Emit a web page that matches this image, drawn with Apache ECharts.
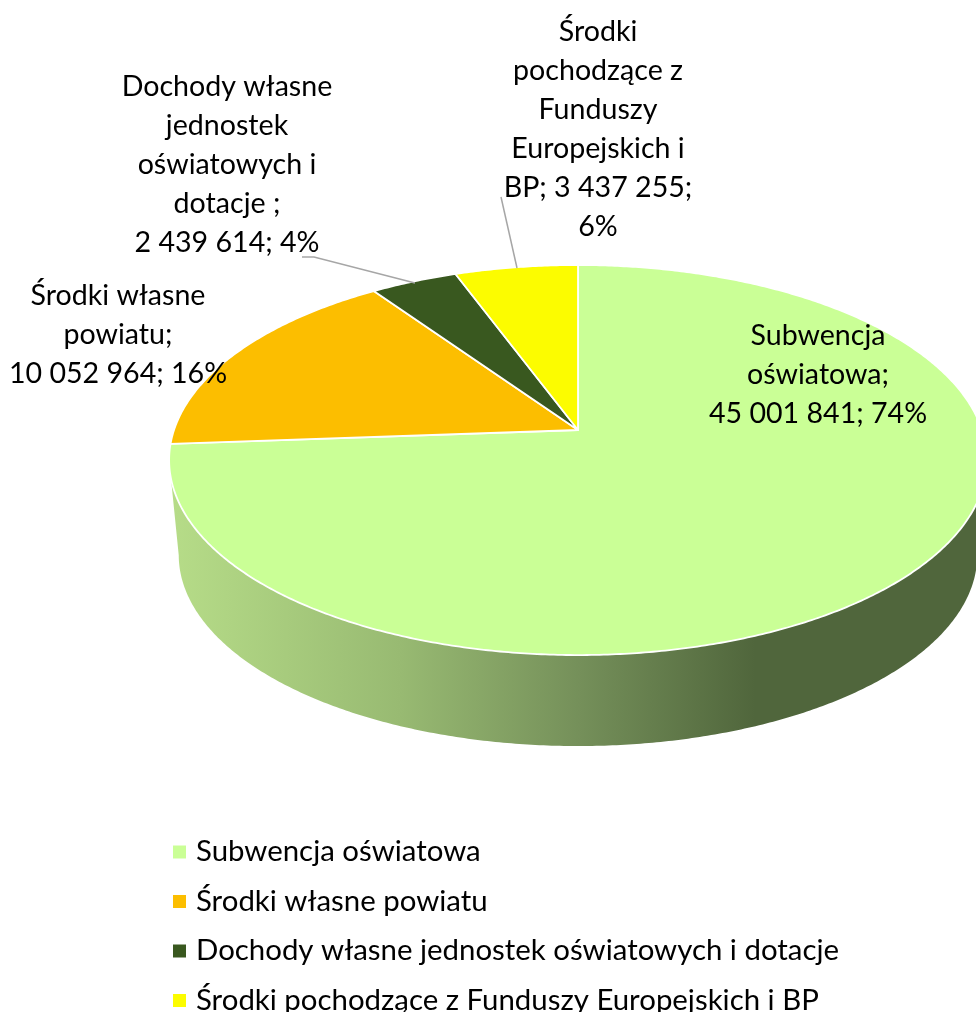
<!DOCTYPE html>
<html>
<head>
<meta charset="utf-8">
<style>html,body{margin:0;padding:0;background:#fff}#c{width:976px;height:1012px}</style>
<script src="https://cdn.jsdelivr.net/npm/echarts@6/dist/echarts.min.js"></script>
</head>
<body>
<div id="c"></div>
<script>
const categories = ['Subwencja oświatowa', 'Środki własne powiatu', 'Dochody własne jednostek oświatowych i dotacje', 'Środki pochodzące z Funduszy Europejskich i BP'];
const values = [45001841, 10052964, 2439614, 3437255];
const colors = ['#caff96', '#fcbe00', '#39581f', '#fcfc00'];
const labelTemplates = [
  'Subwencja\noświatowa;\n{v}; {p}',
  'Środki własne\npowiatu;\n{v}; {p}',
  'Dochody własne\njednostek\noświatowych i\ndotacje ;\n{v}; {p}',
  'Środki\npochodzące z\nFunduszy\nEuropejskich i\nBP; {v};\n{p}'
];
const labelAnchors = [[818, 316], [118, 276], [227, 67], [598, 12]];
const leaderLines = [null, null, [[302, 257], [314, 257], [415, 283]], [[501, 197], [517, 268]]];
const wallStops = [[172, '#b6dc88'], [400, '#98ba72'], [578, '#75905a'], [755, '#50663c'], [976, '#50663c']];

const FONT = 'Lato, "Open Sans", sans-serif';
const LABEL_FS = 28.6;
const LEGEND_FS = 29.4;
const total = values.reduce((a, b) => a + b, 0);
const persp = 0.154;
const topFace = { cx: 578, cy: 430, a: 404, b: 190.4 };
const baseFace = { cx: 578, cy: 525.6, a: 394.5, b: 186.5 };
const DEG = Math.PI / 180;
const wallFrom = 98.9, wallTo = 261.1;

function project(face, deg) {
  const u = Math.sin(deg * DEG), v = Math.cos(deg * DEG), d = 1 + persp * v;
  return [face.cx + face.a * u / d, face.cy - face.b * v / d];
}
function arc(face, from, to) {
  const pts = [], n = Math.max(2, Math.ceil(Math.abs(to - from) * 2));
  for (let i = 0; i <= n; i++) pts.push(project(face, from + (to - from) * i / n));
  return pts;
}
function fmt(v) { return String(v).replace(/\B(?=(\d{3})+$)/g, ' '); }

function renderFor(idx) {
  return function (params, api) {
    const value = api.value(0);
    let before = 0;
    for (let i = 0; i < idx; i++) before += values[i];
    const start = before / total * 360, end = (before + value) / total * 360;
    const children = [];
    const wa = Math.max(start, wallFrom), wb = Math.min(end, wallTo);
    if (wb > wa) {
      const stops = wallStops.map(s => ({ offset: (s[0] - wallStops[0][0]) / (wallStops[wallStops.length - 1][0] - wallStops[0][0]), color: s[1] }));
      children.push({
        type: 'polygon',
        shape: { points: arc(topFace, wa, wb).concat(arc(baseFace, wb, wa)) },
        style: { fill: { type: 'linear', x: wallStops[0][0], y: 0, x2: wallStops[wallStops.length - 1][0], y2: 0, global: true, colorStops: stops } }
      });
    }
    children.push({
      type: 'polygon',
      shape: { points: [[topFace.cx, topFace.cy]].concat(arc(topFace, start, end)) },
      style: { fill: colors[idx], stroke: '#ffffff', lineWidth: 1.8, lineJoin: 'round' }
    });
    if (leaderLines[idx]) {
      children.push({
        type: 'polyline',
        shape: { points: leaderLines[idx] },
        style: { fill: null, stroke: '#a6a6a6', lineWidth: 1.5 },
        z2: 5
      });
    }
    const text = labelTemplates[idx].replace('{v}', fmt(value)).replace('{p}', Math.round(value / total * 100) + '%');
    children.push({
      type: 'text',
      style: {
        x: labelAnchors[idx][0], y: labelAnchors[idx][1], text: text,
        align: 'center', verticalAlign: 'top', lineHeight: 39,
        fontFamily: FONT, fontSize: LABEL_FS, fill: '#000000'
      },
      z2: 10
    });
    return { type: 'group', children: children };
  };
}

const chart = echarts.init(document.getElementById('c'), null, { renderer: 'canvas' });
chart.setOption({
  animation: false,
  backgroundColor: '#ffffff',
  color: colors,
  legend: {
    orient: 'vertical', left: 173, top: 837, height: 400, itemWidth: 13, itemHeight: 13, itemGap: 19.5,
    icon: 'rect', selectedMode: false, padding: 0,
    data: categories,
    textStyle: { fontFamily: FONT, fontSize: LEGEND_FS, color: '#000000', lineHeight: 30, padding: [0, 0, 0, 5] }
  },
  series: categories.map((name, i) => ({
    type: 'custom', name: name, coordinateSystem: 'none', silent: true,
    itemStyle: { color: colors[i] },
    renderItem: renderFor(i),
    data: [[values[i]]]
  }))
});
</script>
</body>
</html>
